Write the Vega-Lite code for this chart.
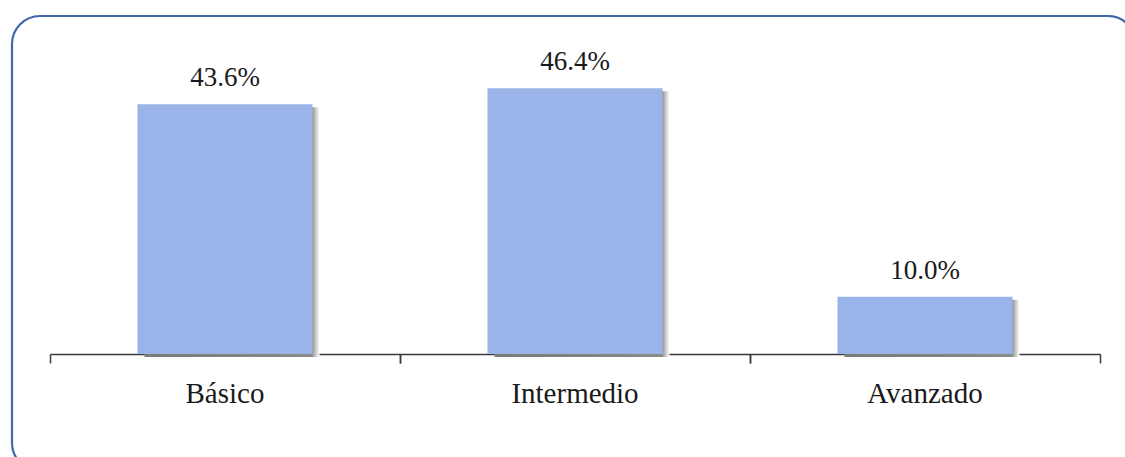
{
  "$schema": "https://vega.github.io/schema/vega-lite/v6.json",
  "width": 1124,
  "height": 455,
  "autosize": {"type": "none"},
  "padding": {"left": 12, "top": 16, "right": 0, "bottom": 0},
  "background": "white",
  "config": {
    "view": {"stroke": "#4067ab", "strokeWidth": 2.2, "cornerRadius": 28, "fill": "white"},
    "font": "Liberation Serif",
    "axis": {"zindex": 1}
  },
  "data": {
    "values": [
      {"nivel": "Básico", "pct": 43.6, "label": "43.6%"},
      {"nivel": "Intermedio", "pct": 46.4, "label": "46.4%"},
      {"nivel": "Avanzado", "pct": 10.0, "label": "10.0%"}
    ]
  },
  "resolve": {"axis": {"x": "independent"}},
  "encoding": {
    "y": {
      "field": "pct",
      "type": "quantitative",
      "scale": {"domain": [0, 50], "range": [338, 51.5]},
      "axis": null
    }
  },
  "layer": [
    {
      "mark": {
        "type": "bar",
        "xOffset": 7,
        "yOffset": 3,
        "y2Offset": 0,
        "fill": {
          "x1": 0, "y1": 0, "x2": 1, "y2": 0,
          "gradient": "linear",
          "stops": [
            {"offset": 0, "color": "#7a7a7a"},
            {"offset": 0.955, "color": "#8a8a8a"},
            {"offset": 1, "color": "#ffffff"}
          ]
        }
      },
      "encoding": {
        "x": {
          "field": "nivel", "type": "nominal", "sort": null,
          "scale": {"range": [38, 1088], "paddingInner": 0.5, "paddingOuter": 0.25},
          "axis": {"orient": "bottom", "title": null, "offset": -117, "domain": false, "labels": false, "grid": false,
                   "bandPosition": -0.5, "tickColor": "#3a3a3a", "tickWidth": 1.5, "tickSize": 9}
        }
      }
    },
    {
      "mark": {"type": "bar", "color": "#9ab4e9"},
      "encoding": {
        "x": {
          "field": "nivel", "type": "nominal", "sort": null,
          "axis": {
            "orient": "bottom",
            "title": null,
            "labelAngle": 0,
            "offset": -117,
            "domainColor": "#3a3a3a",
            "domainWidth": 1.5,
            "ticks": false,
            "labelPadding": 25,
            "labelFont": "Liberation Serif",
            "labelFontSize": 29,
            "labelColor": "#1a1a1a",
            "grid": false
          }
        }
      }
    },
    {
      "mark": {"type": "text", "dy": -18, "baseline": "alphabetic", "font": "Liberation Serif", "fontSize": 27, "color": "#1a1a1a"},
      "encoding": {
        "text": {"field": "label"},
        "x": {
          "field": "nivel", "type": "nominal", "sort": null,
          "axis": {"orient": "bottom", "title": null, "offset": -117, "domain": false, "labels": false, "grid": false,
                   "bandPosition": 1.5, "tickColor": "#3a3a3a", "tickWidth": 1.5, "tickSize": 9}
        }
      }
    }
  ]
}
